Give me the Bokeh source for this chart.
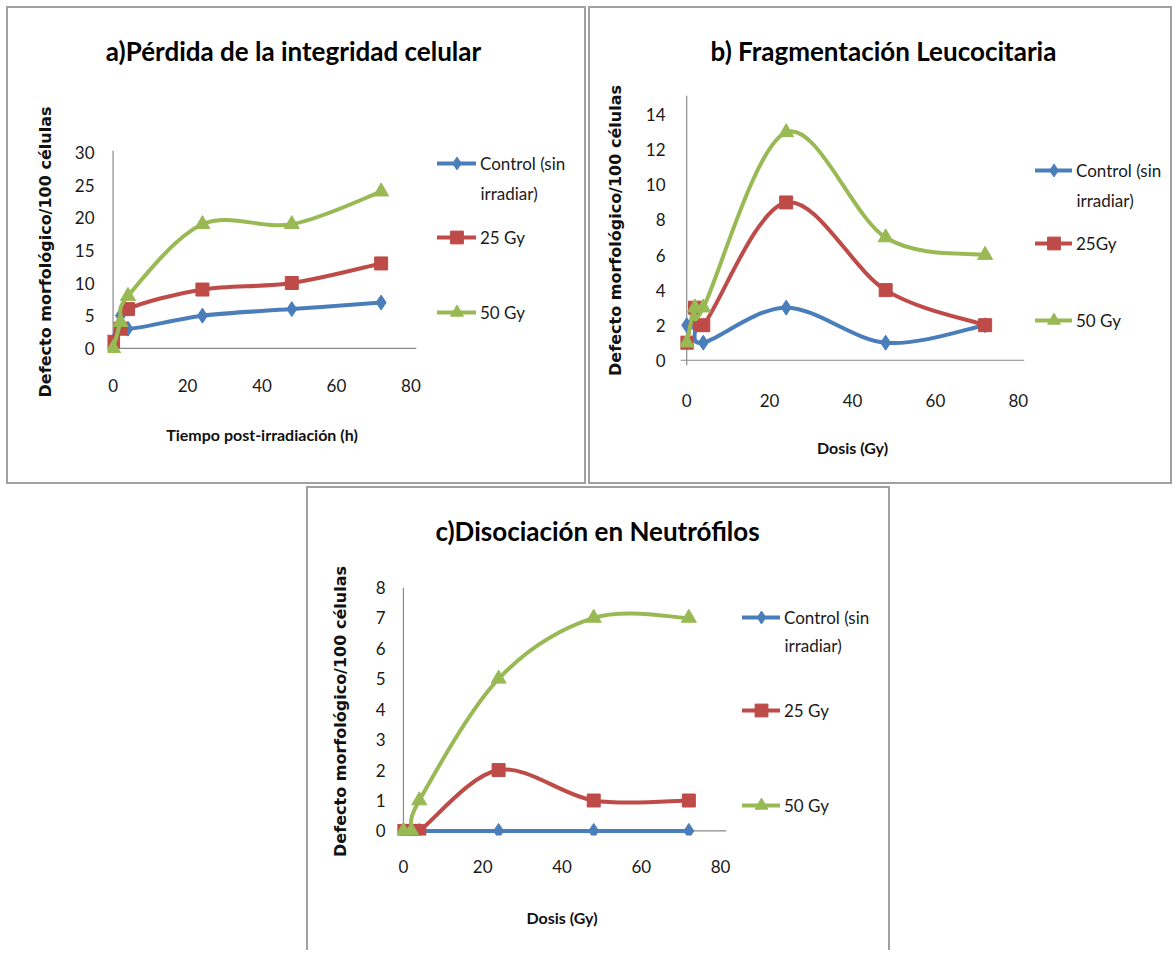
from bokeh.plotting import figure
from bokeh.models import (Range1d, Span, Label, Legend, LegendItem, FixedTicker,
                          Spacer, ColumnDataSource, Plot)
from bokeh.layouts import row, column
from bokeh.embed import file_html
from bokeh.resources import INLINE

# ---------------- data ----------------
x_vals = [0, 2, 4, 24, 48, 72]
x_ticks = [0, 20, 40, 60, 80]

a_control = [1, 5, 3, 5, 6, 7]
a_25 = [1, 3, 6, 9, 10, 13]
a_50 = [0, 4, 8, 19, 19, 24]
a_yticks = [0, 5, 10, 15, 20, 25, 30]

b_control = [2, 2, 1, 3, 1, 2]
b_25 = [1, 3, 2, 9, 4, 2]
b_50 = [1, 3, 3, 13, 7, 6]
b_yticks = [0, 2, 4, 6, 8, 10, 12, 14]

c_control = [0, 0, 0, 0, 0, 0]
c_25 = [0, 0, 0, 2, 1, 1]
c_50 = [0, 0, 1, 5, 7, 7]
c_yticks = [0, 1, 2, 3, 4, 5, 6, 7, 8]

titles = ["a)Pérdida de la integridad celular",
          "b) Fragmentación Leucocitaria",
          "c)Disociación en Neutrófilos"]
x_titles = ["Tiempo post-irradiación (h)", "Dosis (Gy)", "Dosis (Gy)"]
y_title = "Defecto morfológico/100 células"
legend_a = ["Control (sin", "25 Gy", "50 Gy"]
legend_b = ["Control (sin", "25Gy", "50 Gy"]
legend_c = ["Control (sin", "25 Gy", "50 Gy"]
legend_cont = "irradiar)"

COLORS = ["#4A7EBB", "#BE4B48", "#98B954"]
MARKERS = ["diamond", "square", "triangle"]
SIZES = [15, 13, 15]
AXIS_GRAY = "#8a8a8a"
FONT = "Lato"

BASE = dict(output_backend="svg", toolbar_location=None,
            background_fill_color="white", border_fill_color="white",
            outline_line_color=None)
if "frame_align" in Plot.properties():
    BASE["frame_align"] = False


def bezier_source(xs, ys):
    """Excel-style smoothed line: cubic Bezier between consecutive data points."""
    n = len(xs)
    d = {k: [] for k in ("x0", "y0", "x1", "y1", "cx0", "cy0", "cx1", "cy1")}
    for i in range(n - 1):
        a = max(i - 1, 0)
        e = min(i + 2, n - 1)
        d["x0"].append(xs[i]); d["y0"].append(ys[i])
        d["x1"].append(xs[i + 1]); d["y1"].append(ys[i + 1])
        d["cx0"].append(xs[i] + (xs[i + 1] - xs[a]) / 6.0)
        d["cy0"].append(ys[i] + (ys[i + 1] - ys[a]) / 6.0)
        d["cx1"].append(xs[i + 1] - (xs[e] - xs[i]) / 6.0)
        d["cy1"].append(ys[i + 1] - (ys[e] - ys[i]) / 6.0)
    return ColumnDataSource(d)


def add_series(f, ys, col, mk, sz):
    br = f.bezier(x0="x0", y0="y0", x1="x1", y1="y1", cx0="cx0", cy0="cy0",
                  cx1="cx1", cy1="cy1", source=bezier_source(x_vals, ys),
                  line_color=col, line_width=4, line_cap="round")
    sr = f.scatter(x_vals, ys, marker=mk, size=sz, fill_color=col,
                   line_color=col, line_width=1)
    return br, sr


def blank_fig(w, h, rng=(0, 1)):
    f = figure(width=w, height=h, x_range=Range1d(*rng), y_range=Range1d(*rng),
               x_axis_type=None, y_axis_type=None, min_border=0, **BASE)
    f.grid.visible = False
    return f


def title_fig(w, h, text, pos):
    f = blank_fig(w, h)
    f.add_layout(Label(x=pos[0], y=pos[1], x_units="screen", y_units="screen",
                       text=text, text_font=FONT, text_font_size="26px",
                       text_font_style="bold", text_color="#000000",
                       text_align="center", text_baseline="middle"))
    return f


def legend_fig(w, h, series, labels, cfg):
    # the key panel shows its own copies of the series; its ranges keep them
    # out of view so that only the legend samples are seen
    f = blank_fig(w, h, rng=(-100, -99))
    gh = 32
    for ys, lab, col, mk, sz, yc in zip(series, labels, COLORS, MARKERS, SIZES,
                                        cfg["leg_y"]):
        br, sr = add_series(f, ys, col, mk, sz)
        leg = Legend(items=[LegendItem(label=lab, renderers=[br, sr])],
                     location=(cfg["leg_x"], yc - gh // 2),
                     orientation="vertical", padding=0, margin=0, spacing=0,
                     glyph_width=cfg["gw"], glyph_height=gh, label_height=gh,
                     label_standoff=4, border_line_color=None,
                     background_fill_alpha=0, label_text_font=FONT,
                     label_text_font_size="17px", label_text_color="#1a1a1a",
                     label_text_baseline="middle")
        f.add_layout(leg)
    f.add_layout(Label(x=cfg["irr"][0], y=cfg["irr"][1], x_units="screen",
                       y_units="screen", text=legend_cont, text_font=FONT,
                       text_font_size="17px", text_color="#1a1a1a",
                       text_align="left", text_baseline="middle"))
    return f


def plot_fig(cfg, series, yticks, xtitle):
    p = figure(width=cfg["w"], height=cfg["h"],
               x_range=Range1d(*cfg["xr"]), y_range=Range1d(*cfg["yr"]),
               min_border_left=cfg["mbl"], min_border_right=cfg["mbr"],
               min_border_top=cfg["mbt"], min_border_bottom=cfg["mbb"], **BASE)
    p.grid.visible = False
    p.xaxis.ticker = FixedTicker(ticks=x_ticks)
    p.yaxis.ticker = FixedTicker(ticks=yticks)
    for ax in (p.xaxis[0], p.yaxis[0]):
        ax.axis_line_color = None
        ax.major_tick_line_color = None
        ax.minor_tick_line_color = None
        ax.major_tick_in = 0
        ax.major_tick_out = 0
        ax.minor_tick_in = 0
        ax.minor_tick_out = 0
        ax.major_label_text_font = FONT
        ax.major_label_text_font_size = "17px"
        ax.major_label_text_color = "#1a1a1a"
    p.xaxis.major_label_standoff = cfg["xts"]
    p.yaxis.major_label_standoff = cfg["yts"]
    p.xaxis.axis_label = xtitle
    p.xaxis.axis_label_text_font = FONT
    p.xaxis.axis_label_text_font_style = "bold"
    p.xaxis.axis_label_text_font_size = "16px"
    p.xaxis.axis_label_text_color = "#111111"
    p.xaxis.axis_label_standoff = cfg["xls"]
    p.yaxis.axis_label = y_title
    p.yaxis.axis_label_text_font = "DejaVu Sans"
    p.yaxis.axis_label_text_font_style = "bold"
    p.yaxis.axis_label_text_font_size = "16px"
    p.yaxis.axis_label_text_color = "#111111"
    p.yaxis.axis_label_standoff = cfg["yls"]

    p.add_layout(Span(location=0, dimension="width", line_color=AXIS_GRAY,
                      line_width=1.2, level="underlay"))
    p.add_layout(Span(location=0, dimension="height", line_color=AXIS_GRAY,
                      line_width=1.2, level="underlay"))

    for ys, col, mk, sz in zip(series, COLORS, MARKERS, SIZES):
        add_series(p, ys, col, mk, sz)
    return p


# panel geometry (pixels inside each bordered panel)
cfg_a = dict(pw=576, ph=474, th=75, tpos=(285, 33),
             w=420, h=399, mbl=99, mbr=12, mbt=67, mbb=129,
             xr=(-1.5, 81.5), yr=(-0.8, 30.3),
             xts=25, yts=13, xls=30, yls=17,
             leg_x=9, leg_y=[319, 245, 170], gw=39, irr=(52, 289))
cfg_b = dict(pw=580, ph=474, th=75, tpos=(293, 33),
             w=440, h=399, mbl=90, mbr=6, mbt=12, mbb=117,
             xr=(-1.5, 81.5), yr=(-0.3, 15.1),
             xts=28, yts=15, xls=28, yls=18,
             leg_x=5, leg_y=[312, 239, 162], gw=37, irr=(46, 282))
cfg_c = dict(pw=580, ph=462, th=75, tpos=(289, 33),
             w=424, h=387, mbl=89, mbr=6, mbt=24, mbb=115,
             xr=(-1.5, 81.5), yr=(-0.15, 8),
             xts=24, yts=12, xls=32, yls=23,
             leg_x=10, leg_y=[333, 240, 145], gw=38, irr=(52, 305))


def panel(cfg, series, yticks, title, xtitle, leg_labels, styles):
    t = title_fig(cfg["pw"], cfg["th"], title, cfg["tpos"])
    p = plot_fig(cfg, series, yticks, xtitle)
    lg = legend_fig(cfg["pw"] - cfg["w"], cfg["h"], series, leg_labels, cfg)
    return column(t, row(p, lg), styles=styles)


BORDER = {"border": "2px solid #a0a0a0"}
BORDER_C = {"border-top": "2px solid #a0a0a0", "border-left": "2px solid #a0a0a0",
            "border-right": "2px solid #a0a0a0"}

pa = panel(cfg_a, [a_control, a_25, a_50], a_yticks, titles[0], x_titles[0], legend_a, BORDER)
pb = panel(cfg_b, [b_control, b_25, b_50], b_yticks, titles[1], x_titles[1], legend_b, BORDER)
pc = panel(cfg_c, [c_control, c_25, c_50], c_yticks, titles[2], x_titles[2], legend_c, BORDER_C)

layout = column(Spacer(height=6),
                row(Spacer(width=6), pa, Spacer(width=2), pb),
                Spacer(height=2),
                row(Spacer(width=306), pc))

open("out.html", "w").write(file_html(layout, INLINE))
